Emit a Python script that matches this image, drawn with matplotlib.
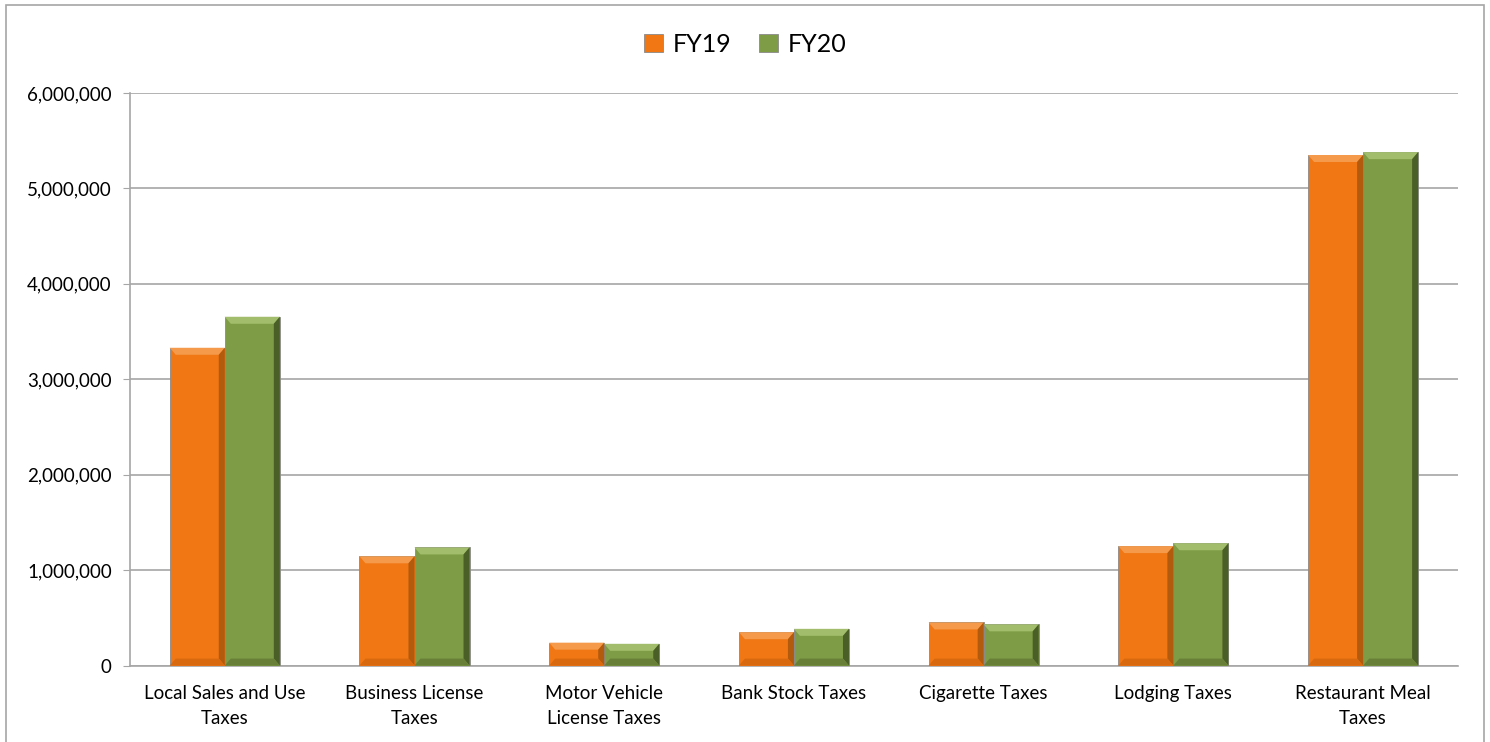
import matplotlib.pyplot as plt
import numpy as np
from matplotlib.patches import Polygon, Rectangle
from matplotlib.ticker import FuncFormatter

categories = ['Local Sales and Use\nTaxes', 'Business License\nTaxes', 'Motor Vehicle\nLicense Taxes',
              'Bank Stock Taxes', 'Cigarette Taxes', 'Lodging Taxes', 'Restaurant Meal\nTaxes']
fy19 = [3330000, 1145000, 240000, 350000, 452000, 1252000, 5350000]
fy20 = [3655000, 1238000, 228000, 385000, 432000, 1282000, 5380000]

plt.rcParams['font.family'] = ['Lato', 'DejaVu Sans']

fig = plt.figure(figsize=(14.9, 7.42), dpi=100)
ax = fig.add_axes([0.0872, 0.103, 0.8913, 0.7717])

x = np.arange(len(categories))
w = 0.29
# base, top, right, bottom
colors = {'FY19': ('#F07714', '#F49A4A', '#B25A0D', '#D8690F'),
          'FY20': ('#7E9C45', '#A2BE6C', '#4A5E27', '#687F38')}

bars19 = ax.bar(x - w / 2, fy19, w, color=colors['FY19'][0], edgecolor='#8a8a8a', linewidth=0.6, label='FY19', zorder=3)
bars20 = ax.bar(x + w / 2, fy20, w, color=colors['FY20'][0], edgecolor='#8a8a8a', linewidth=0.6, label='FY20', zorder=3)

ax.set_xlim(-0.5, len(categories) - 0.5)
ax.set_ylim(0, 6000000)

# bevel edges (sizes in pixels, converted to data units)
fig.canvas.draw()
inv = ax.transData.inverted()
p0 = inv.transform((0, 0))
p1 = inv.transform((6, 7))
dx, dy = p1[0] - p0[0], p1[1] - p0[1]
for bars, key in [(bars19, 'FY19'), (bars20, 'FY20')]:
    base, light, dark, mid = colors[key]
    for b in bars:
        x0, y0 = b.get_x(), b.get_y()
        x1, y1 = x0 + b.get_width(), y0 + b.get_height()
        e = min(dy, b.get_height() / 3)
        ex = dx
        ax.add_patch(Polygon([(x0, y1), (x1, y1), (x1 - ex, y1 - e), (x0 + ex, y1 - e)], closed=True,
                             facecolor=light, edgecolor='none', zorder=4))
        ax.add_patch(Polygon([(x1, y1), (x1, y0), (x1 - ex, y0 + e), (x1 - ex, y1 - e)], closed=True,
                             facecolor=dark, edgecolor='none', zorder=4))
        ax.add_patch(Polygon([(x0, y0), (x1, y0), (x1 - ex, y0 + e), (x0 + ex, y0 + e)], closed=True,
                             facecolor=mid, edgecolor='none', zorder=4))

ax.yaxis.set_major_formatter(FuncFormatter(lambda v, p: f'{int(v):,}'))
ax.set_yticks(np.arange(0, 6000001, 1000000))
ax.grid(axis='y', color='#A6A6A6', linewidth=1.2, zorder=0)
ax.set_axisbelow(True)
ax.set_xticks(x)
ax.set_xticklabels(categories, fontsize=13.5, linespacing=1.55)
ax.tick_params(axis='x', length=0, pad=14)
ax.tick_params(axis='y', length=5, color='#A6A6A6', labelsize=13.5, pad=8)
for s in ['top', 'right']:
    ax.spines[s].set_visible(False)
for s in ['left', 'bottom']:
    ax.spines[s].set_color('#A6A6A6')
    ax.spines[s].set_linewidth(1.2)

fig.legend(handles=[bars19, bars20], labels=['FY19', 'FY20'], loc='center', bbox_to_anchor=(0.5, 0.94),
           ncol=2, frameon=False, fontsize=18, handlelength=0.75, handleheight=0.75, handletextpad=0.4,
           columnspacing=1.1)

fig.patches.append(Rectangle((0.004, -0.01), 0.992, 1.003, transform=fig.transFigure, fill=False,
                             edgecolor='#A6A6A6', linewidth=1.2))

fig.savefig('out.png', dpi=100)
